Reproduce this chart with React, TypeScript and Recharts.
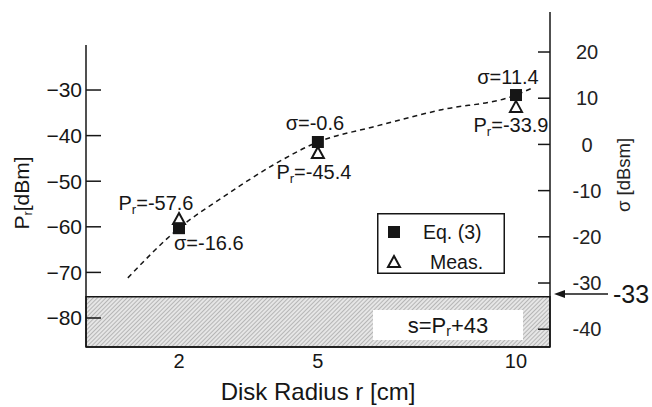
import React from 'react';
import {
  ComposedChart,
  Line,
  Scatter,
  XAxis,
  YAxis,
  ReferenceArea,
  ReferenceLine,
  LabelList,
  Legend,
} from 'recharts';

// values
const radii = [2, 5, 10];
const eqPr = [-60.3, -41.4, -31.1];
const eqSigma = [-16.6, -0.6, 11.4];
const measPr = [-58.3, -43.8, -33.7];
const measPrText = [-57.6, -45.4, -33.9];
const curveR = [1.06, 2, 2.89, 3.97, 5, 6.32, 8.0, 10, 10.43];
const curvePr = [-71.2, -60.3, -53.5, -46.5, -41.4, -38.1, -34.4, -31.1, -29.6];
const leftTicks = [-80, -70, -60, -50, -40, -30];
const rightTicks = [-40, -30, -20, -10, 0, 10, 20];
const thresholdSigma = -33;
const legendItems = ['Eq. (3)', 'Meas.'];

// x axis of the figure is neither linear nor log; a power of 0.8 fits it
const EXP = 0.8;
const toX = (r: number) => Math.pow(r, EXP);

const xDomain: [number, number] = [0.4804, 6.7705];
const leftDomain: [number, number] = [-86.36, -12.89];
const rightDomain: [number, number] = [-43.85, 28.66];

const eqData = radii.map((r, i) => ({ r, pr: eqPr[i], lbl: eqSigma[i] }));
const measData = radii.map((r, i) => ({ r, pr: measPr[i], lbl: measPrText[i] }));
const curveData = curveR.map((r, i) => ({ r, pr: curvePr[i] }));

const FONT = 'Arial, "Liberation Sans", sans-serif';
const INK = '#161616';

const eqLabelDx = [-5, -3, -8];
const eqLabelDy = [15, -19, -18];
const eqAnchor = ['start', 'middle', 'middle'];
const measLabelDx = [-23, -4, -5];
const measLabelDy = [-16, 19, 18];

const SquareShape = (p: any) => (
  <rect x={p.cx - 6} y={p.cy - 6} width={12} height={12} fill={INK} />
);

const TriangleShape = (p: any) => (
  <path
    d={`M${p.cx},${p.cy - 6} L${p.cx + 6},${p.cy + 5} L${p.cx - 6},${p.cy + 5} Z`}
    fill="#fff"
    stroke={INK}
    strokeWidth={2}
  />
);

const centerOf = (props: any) => {
  const vb = props.viewBox;
  if (vb && vb.width !== undefined) {
    return { cx: vb.x + vb.width / 2, cy: vb.y + vb.height / 2 };
  }
  return { cx: props.cx ?? props.x, cy: props.cy ?? props.y };
};

const SigmaLabel = (props: any) => {
  const { cx, cy } = centerOf(props);
  const i = props.index;
  return (
    <text
      x={cx + eqLabelDx[i]}
      y={cy + eqLabelDy[i]}
      textAnchor={eqAnchor[i] as any}
      dominantBaseline="central"
      fontSize={20}
      fill={INK}
      fontFamily={FONT}
    >
      {`σ=${props.value}`}
    </text>
  );
};

const PrLabel = (props: any) => {
  const { cx, cy } = centerOf(props);
  const i = props.index;
  return (
    <text
      x={cx + measLabelDx[i]}
      y={cy + measLabelDy[i]}
      textAnchor="middle"
      dominantBaseline="central"
      fontSize={20}
      fill={INK}
      fontFamily={FONT}
    >
      P<tspan fontSize={13} dy={6}>r</tspan>
      <tspan dy={-6}>{`=${props.value}`}</tspan>
    </text>
  );
};

const LegendBox = () => (
  <svg width={128} height={61} style={{ display: 'block' }}>
    <rect x={0.75} y={0.75} width={126.5} height={59.5} fill="#fff" stroke={INK} strokeWidth={1.5} />
    <rect x={11} y={13} width={12} height={12} fill={INK} />
    <text x={46} y={19} dominantBaseline="central" fontSize={19.5} fill={INK} fontFamily={FONT}>
      {legendItems[0]}
    </text>
    <path d="M17,43 L23,54 L11,54 Z" fill="#fff" stroke={INK} strokeWidth={2} />
    <text x={53} y={49} dominantBaseline="central" fontSize={19.5} fill={INK} fontFamily={FONT}>
      {legendItems[1]}
    </text>
  </svg>
);

const fmtLeft = (v: number) => (v < 0 ? `\u2212${Math.abs(v)}` : `${v}`);

export default function App() {
  return (
    <div
      style={{
        position: 'absolute',
        left: 0,
        top: 0,
        width: 652,
        height: 407,
        background: '#fff',
        fontFamily: FONT,
      }}
    >
      <ComposedChart
        width={652}
        height={407}
        margin={{ top: 12, right: 0, bottom: 0, left: 0 }}
      >
        <defs>
          <pattern id="hatch" width={3} height={3} patternUnits="userSpaceOnUse" patternTransform="rotate(45)">
            <rect width={3} height={3} fill="#e6e6e6" />
            <line x1={0} y1={0} x2={0} y2={3} stroke="#8f8f8f" strokeWidth={1.1} />
          </pattern>
        </defs>
        <XAxis
          type="number"
          dataKey={(d: any) => toX(d.r)}
          domain={xDomain}
          allowDataOverflow
          ticks={radii.map(toX)}
          tickFormatter={(v: number) => `${Math.round(Math.pow(v, 1 / EXP))}`}
          tickLine={false}
          tickSize={0}
          tickMargin={7}
          height={60}
          stroke={INK}
          axisLine={{ stroke: INK, strokeWidth: 1.5 }}
          tick={{ fontSize: 20, fill: INK }}
        />
        <YAxis
          yAxisId="left"
          orientation="left"
          type="number"
          dataKey="pr"
          domain={leftDomain}
          allowDataOverflow
          ticks={leftTicks}
          tickFormatter={fmtLeft}
          tickSize={-15}
          tickMargin={19}
          width={86}
          axisLine={false}
          stroke={INK}
          tickLine={{ stroke: INK, strokeWidth: 1.5 }}
          tick={{ fontSize: 21, fill: INK }}
        />
        <YAxis
          yAxisId="right"
          orientation="right"
          type="number"
          domain={rightDomain}
          allowDataOverflow
          ticks={rightTicks}
          tickSize={-12}
          tickMargin={49}
          width={102}
          stroke={INK}
          axisLine={{ stroke: INK, strokeWidth: 1.5 }}
          tickLine={{ stroke: INK, strokeWidth: 1.5 }}
          tick={{ fontSize: 20, fill: '#222', textAnchor: 'middle' }}
        />
        <ReferenceArea
          yAxisId="right"
          y1={rightDomain[0]}
          y2={thresholdSigma}
          fill="url(#hatch)"
          fillOpacity={1}
          stroke={INK}
          strokeWidth={1.5}
          ifOverflow="visible"
        />
        <ReferenceLine
          yAxisId="left"
          segment={[
            { x: xDomain[0], y: leftDomain[0] },
            { x: xDomain[0], y: -20.1 },
          ]}
          stroke={INK}
          strokeWidth={1.5}
          ifOverflow="visible"
        />
        <Line
          yAxisId="left"
          data={curveData}
          dataKey="pr"
          type="monotone"
          stroke={INK}
          strokeWidth={1.5}
          strokeDasharray="5 4"
          dot={false}
          activeDot={false}
          isAnimationActive={false}
        />
        <Scatter yAxisId="left" data={measData} shape={TriangleShape} isAnimationActive={false}>
          <LabelList dataKey="lbl" content={PrLabel} />
        </Scatter>
        <Scatter yAxisId="left" data={eqData} shape={SquareShape} isAnimationActive={false}>
          <LabelList dataKey="lbl" content={SigmaLabel} />
        </Scatter>
        <Legend
          layout="vertical"
          align="center"
          verticalAlign="middle"
          content={() => <LegendBox />}
          wrapperStyle={{ left: 377, top: 213, width: 128, height: 61 }}
        />
      </ComposedChart>

      <svg
        width={652}
        height={407}
        style={{ position: 'absolute', left: 0, top: 0, pointerEvents: 'none' }}
        fontFamily={FONT}
      >
        {/* left axis title */}
        <text
          transform="translate(21,193) rotate(-90)"
          textAnchor="middle"
          dominantBaseline="central"
          fontSize={21}
          fill={INK}
        >
          P<tspan fontSize={13} dy={6}>r</tspan>
          <tspan dy={-6}>[dBm]</tspan>
        </text>
        {/* right axis title */}
        <text
          transform="translate(623,175) rotate(-90)"
          textAnchor="middle"
          dominantBaseline="central"
          fontSize={18.5}
          fill="#222"
        >
          σ [dBsm]
        </text>
        {/* x axis title */}
        <text x={318} y={391} textAnchor="middle" dominantBaseline="central" fontSize={24} fill={INK}>
          Disk Radius r [cm]
        </text>
        {/* formula box in the hatched zone */}
        <rect x={373} y={310} width={150} height={30} fill="#fff" />
        <text x={448} y={325} textAnchor="middle" dominantBaseline="central" fontSize={22} fill={INK}>
          s=P<tspan fontSize={14} dy={6}>r</tspan>
          <tspan dy={-6}>+43</tspan>
        </text>
        {/* threshold arrow */}
        <line x1={608} y1={294} x2={562} y2={294} stroke={INK} strokeWidth={1.5} />
        <polygon points="554,294 565,290 565,298" fill={INK} />
        <text x={613} y={294} dominantBaseline="central" fontSize={25} fill={INK}>
          {`${thresholdSigma}`}
        </text>
      </svg>
    </div>
  );
}
